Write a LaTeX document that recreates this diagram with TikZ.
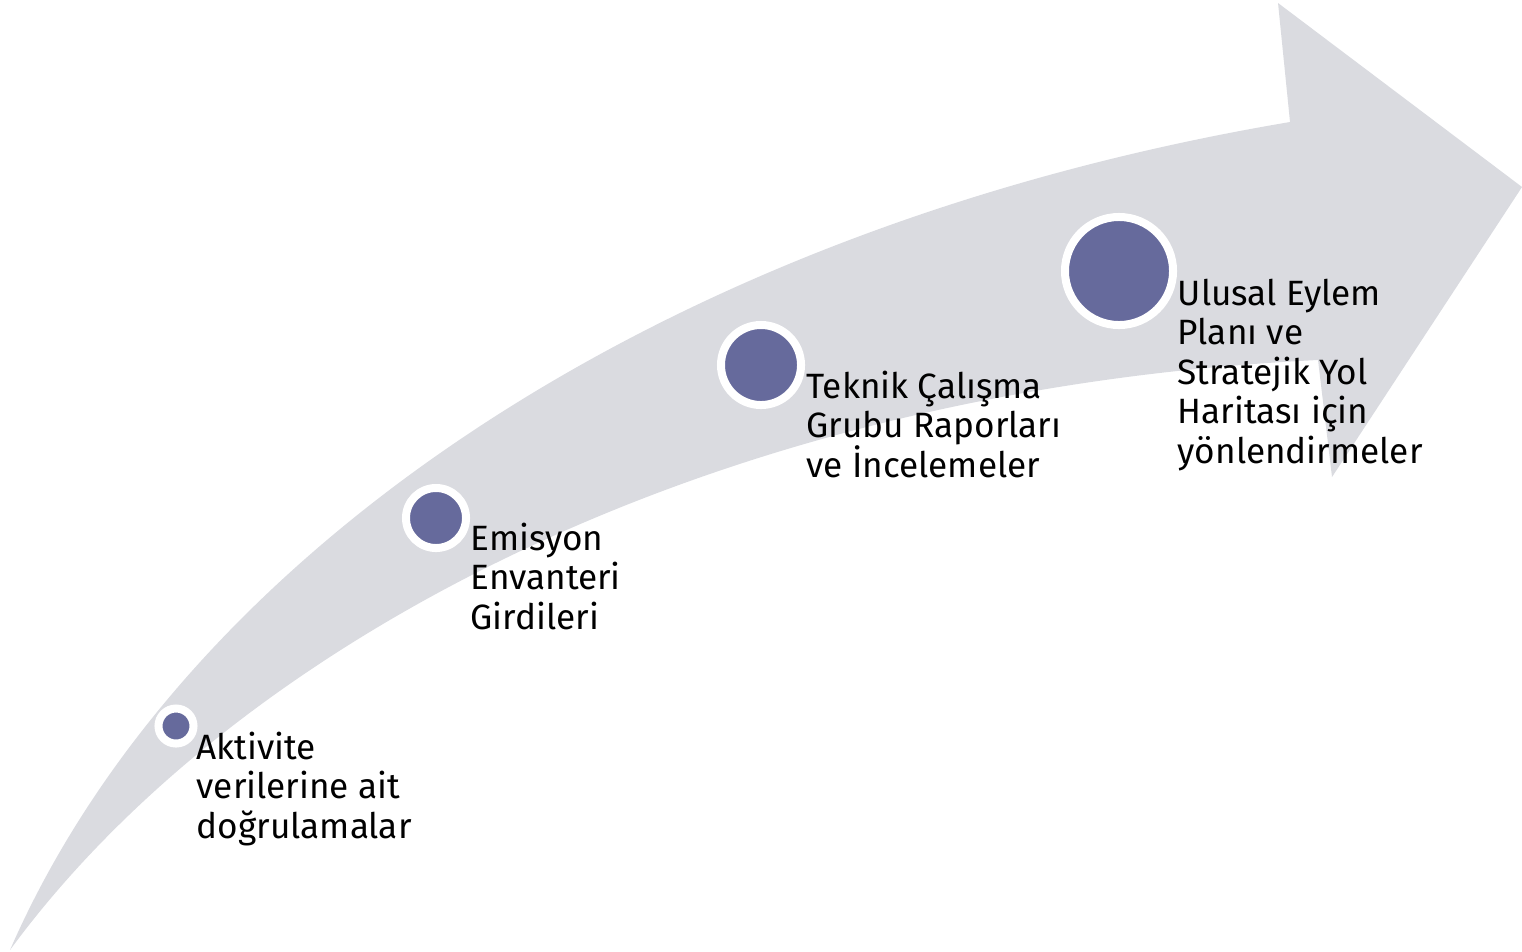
\documentclass[tikz,border=0pt]{standalone}
\usepackage{fontspec}
\setmainfont{Fira Sans}
\definecolor{arrowgray}{RGB}{218,219,224}
\definecolor{dotblue}{RGB}{102,106,156}
\tikzset{
  stepdot/.style={circle, fill=dotblue, draw=white, line width=0.08cm, inner sep=0pt},
  steptext/.style={anchor=base west, align=left, inner sep=0pt, font=\fontsize{10}{11.2}\selectfont}
}

\begin{document}
\begin{tikzpicture}[x=0.01cm, y=-0.01cm]
		\useasboundingbox (0,0) rectangle (1522,951);
		% curved arrow
		\fill [arrowgray] (10,950) .. controls (180,560) and (650,230) .. (1290,122)
			-- (1278,3) -- (1522,187) -- (1332,477) -- (1318,360)
			.. controls (700,390) and (230,650) .. (10,950) -- cycle;
		% steps
		\node [stepdot, minimum size=0.35cm] (c1) at (176,726) {};
		\node [stepdot, minimum size=0.6cm] (c2) at (436,518) {};
		\node [stepdot, minimum size=0.8cm] (c3) at (761,365) {};
		\node [stepdot, minimum size=1.08cm] (c4) at (1119,271) {};
		% labels (base = last line)
		\node [steptext] (t1) at (196,838) {Aktivite\\verilerine ait\\doğrulamalar};
		\node [steptext] (t2) at (470,629) {Emisyon\\Envanteri\\Girdileri};
		\node [steptext] (t3) at (806,477) {Teknik Çalışma\\Grubu Raporları\\ve İncelemeler};
		\node [steptext] (t4) at (1177,463) {Ulusal Eylem\\Planı ve\\Stratejik Yol\\Haritası için\\yönlendirmeler};
	\end{tikzpicture}
\end{document}
